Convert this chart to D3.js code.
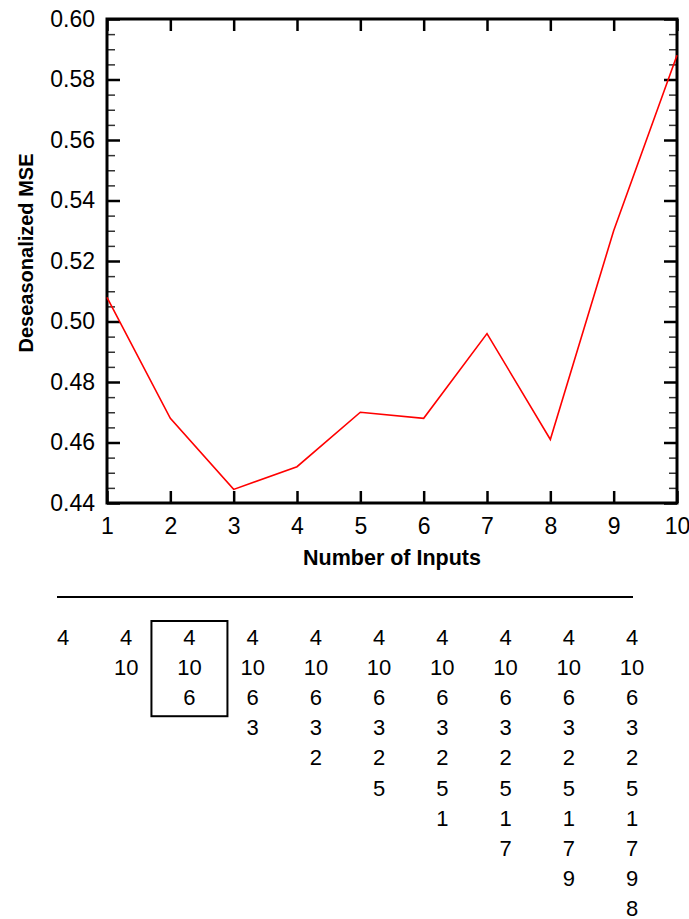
<!DOCTYPE html>
<html>
<head>
<meta charset="utf-8">
<script src="https://cdn.jsdelivr.net/npm/d3@7"></script>
<style>
  html, body { margin: 0; padding: 0; background: #fff; }
  svg { display: block; font-family: "Liberation Sans", Arial, sans-serif; }
</style>
</head>
<body>
<svg id="chart" width="689" height="919"></svg>
<script>
// number of inputs on the x axis
const inputs = [1, 2, 3, 4, 5, 6, 7, 8, 9, 10];
// deseasonalized MSE per number of inputs
const mse = [0.508, 0.468, 0.4445, 0.452, 0.470, 0.468, 0.496, 0.461, 0.530, 0.588];
// order in which inputs get added (column k lists the first k)
const inputOrder = [4, 10, 6, 3, 2, 5, 1, 7, 9, 8];
const yTicks = [0.44, 0.46, 0.48, 0.50, 0.52, 0.54, 0.56, 0.58, 0.60];
const bestCount = 3;

const svg = d3.select("#chart");
const plotL = 107, plotR = 677, plotT = 19, plotB = 503;

const x = d3.scaleLinear().domain([1, 10]).range([plotL, plotR]);
const y = d3.scaleLinear().domain([0.44, 0.60]).range([plotB, plotT]);

const minorTicks = d3.range(0.44, 0.6001, 0.005).filter(v => !yTicks.some(t => Math.abs(t - v) < 1e-6));

// minor ticks, left and right
svg.append("g")
  .attr("transform", `translate(${plotL},0)`)
  .call(d3.axisLeft(y).tickValues(minorTicks).tickSize(-8).tickFormat(""))
  .call(g => g.select(".domain").remove())
  .call(g => g.selectAll("line").attr("stroke", "#333").attr("stroke-width", 1.5));
svg.append("g")
  .attr("transform", `translate(${plotR},0)`)
  .call(d3.axisRight(y).tickValues(minorTicks).tickSize(-8).tickFormat(""))
  .call(g => g.select(".domain").remove())
  .call(g => g.selectAll("line").attr("stroke", "#333").attr("stroke-width", 1.5));

// major y ticks
svg.append("g")
  .attr("transform", `translate(${plotL},0)`)
  .call(d3.axisLeft(y).tickValues(yTicks).tickSize(-13).tickPadding(12).tickFormat(d3.format(".2f")))
  .call(g => g.select(".domain").remove())
  .call(g => g.selectAll("line").attr("stroke", "#000").attr("stroke-width", 2.5))
  .call(g => g.selectAll("text").attr("font-size", 23).attr("fill", "#000").attr("font-family", null));
svg.append("g")
  .attr("transform", `translate(${plotR},0)`)
  .call(d3.axisRight(y).tickValues(yTicks).tickSize(-13).tickFormat(""))
  .call(g => g.select(".domain").remove())
  .call(g => g.selectAll("line").attr("stroke", "#000").attr("stroke-width", 2.5));

// x ticks, bottom and top
svg.append("g")
  .attr("transform", `translate(0,${plotB})`)
  .call(d3.axisBottom(x).tickValues(inputs).tickSize(-12).tickPadding(15).tickFormat(d3.format("d")))
  .call(g => g.select(".domain").remove())
  .call(g => g.selectAll("line").attr("stroke", "#000").attr("stroke-width", 2.5))
  .call(g => g.selectAll("text").attr("font-size", 23).attr("fill", "#000").attr("font-family", null));
svg.append("g")
  .attr("transform", `translate(0,${plotT})`)
  .call(d3.axisTop(x).tickValues(inputs).tickSize(-12).tickFormat(""))
  .call(g => g.select(".domain").remove())
  .call(g => g.selectAll("line").attr("stroke", "#000").attr("stroke-width", 2.5));

// frame
svg.append("rect")
  .attr("x", plotL).attr("y", plotT)
  .attr("width", plotR - plotL).attr("height", plotB - plotT)
  .attr("fill", "none").attr("stroke", "#000").attr("stroke-width", 3);

// data line
svg.append("path")
  .datum(inputs.map((d, i) => [d, mse[i]]))
  .attr("fill", "none")
  .attr("stroke", "#ff0000")
  .attr("stroke-width", 1.6)
  .attr("d", d3.line().x(d => x(d[0])).y(d => y(d[1])));

// axis titles
svg.append("text")
  .attr("x", (plotL + plotR) / 2) .attr("y", 565)
  .attr("text-anchor", "middle")
  .attr("font-size", 21.5).attr("font-weight", "bold")
  .text("Number of Inputs");
svg.append("text")
  .attr("transform", `translate(33,${(plotT + plotB) / 2 - 8}) rotate(-90)`)
  .attr("text-anchor", "middle")
  .attr("font-size", 20).attr("font-weight", "bold")
  .text("Deseasonalized MSE");

// table of selected inputs
const col = d3.scaleLinear().domain([1, 10]).range([63, 632]);
const row = d3.scaleLinear().domain([1, 10]).range([637, 908]);

svg.append("line")
  .attr("x1", 57).attr("x2", 633).attr("y1", 597).attr("y2", 597)
  .attr("stroke", "#000").attr("stroke-width", 2);

const cols = svg.append("g").attr("font-size", 22).attr("text-anchor", "middle");
inputs.forEach(k => {
  cols.selectAll(null)
    .data(inputOrder.slice(0, k))
    .join("text")
    .attr("x", col(k))
    .attr("y", (d, i) => row(i + 1) + 8)
    .text(d => d);
});

svg.append("rect")
  .attr("x", col(bestCount) - 38).attr("y", row(1) - 16)
  .attr("width", 76).attr("height", row(bestCount) - row(1) + 35)
  .attr("fill", "none").attr("stroke", "#000").attr("stroke-width", 2);
</script>
</body>
</html>
